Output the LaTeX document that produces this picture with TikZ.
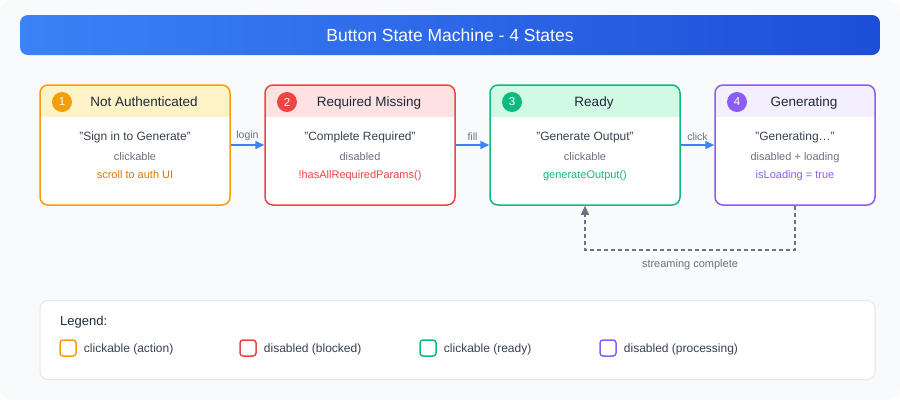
\documentclass[tikz,border=0pt]{standalone}
\usepackage{fontspec}
\setmainfont{Liberation Sans}
\usetikzlibrary{arrows.meta, positioning}

\definecolor{canvas}{HTML}{F8FAFC}
\definecolor{titleA}{HTML}{3B82F6}
\definecolor{titleB}{HTML}{1D4ED8}
\definecolor{stOrange}{HTML}{F59E0B}
\definecolor{hdOrange}{HTML}{FEF3C7}
\definecolor{txOrange}{HTML}{D97706}
\definecolor{stRed}{HTML}{EF4444}
\definecolor{hdRed}{HTML}{FEE2E2}
\definecolor{stGreen}{HTML}{10B981}
\definecolor{hdGreen}{HTML}{D1FAE5}
\definecolor{stPurple}{HTML}{8B5CF6}
\definecolor{hdPurple}{HTML}{F3EFFF}
\definecolor{inkDark}{HTML}{1F2937}
\definecolor{inkBody}{HTML}{374151}
\definecolor{inkGray}{HTML}{6B7280}
\definecolor{legBorder}{HTML}{E5E7EB}
\definecolor{backGray}{HTML}{64748B}

\begin{document}
\begin{tikzpicture}[x=1pt, y=-1pt,
  statebox/.style={draw, line width=1.5pt, rounded corners=8pt, minimum height=120pt, inner sep=0pt},
  badge/.style={circle, text=white, minimum size=20pt, inner sep=0pt, font=\fontsize{11.5}{13}\selectfont},
  headtxt/.style={text=inkDark, font=\fontsize{13.5}{16}\selectfont},
  line/.style={anchor=mid, inner sep=0pt, yshift=-2pt},
  flow/.style={draw=titleA, line width=1.5pt, -{Triangle[length=9pt,width=8pt]}},
  back/.style={draw=inkGray, line width=1.5pt, dashed, dash pattern=on 4pt off 3pt, -{Triangle[length=9pt,width=8pt]}},
  lbl/.style={text=inkGray, font=\fontsize{10.5}{12}\selectfont, inner sep=4pt},
  keybox/.style={draw, line width=1.5pt, rounded corners=3pt, minimum size=16pt, inner sep=0pt}]
\useasboundingbox (0,0) rectangle (900,400);
\fill[white] (0,0) rectangle (900,400);
\fill[canvas, rounded corners=12pt] (0,0) rectangle (900,400);

% Title bar
\shade[left color=titleA, right color=titleB, rounded corners=8pt] (20,15) rectangle (880,55);
\node (title) at (450,35) [text=white, font=\fontsize{17.5}{20}\selectfont] {Button State Machine - 4 States};

% The four states
\foreach \n/\x/\w/\c/\hd/\tc/\ttl/\ta/\tb/\tl in {
    1/135/190/stOrange/hdOrange/txOrange/Not Authenticated/"Sign in to Generate"/clickable/scroll to auth UI,
    2/360/190/stRed/hdRed/stRed/Required Missing/"Complete Required"/disabled/!hasAllRequiredParams(),
    3/585/190/stGreen/hdGreen/stGreen/Ready/"Generate Output"/clickable/generateOutput(),
    4/795/160/stPurple/hdPurple/stPurple/Generating/"Generating…"/disabled + loading/isLoading = true} {
  \fill[white, rounded corners=8pt] ({\x-\w/2},85) rectangle ({\x+\w/2},205);
  \begin{scope}
    \clip[rounded corners=8pt] ({\x-\w/2},85) rectangle ({\x+\w/2},205);
    \fill[\hd] ({\x-\w/2},85) rectangle ({\x+\w/2},117);
  \end{scope}
  \node[statebox, draw=\c, minimum width=\w] (s\n) at (\x,145) {};
  \node[badge, fill=\c] (b\n) at ({\x-\w/2+22},102) {\n};
  \node[headtxt, line] (h\n) at ({\x+9},102) {\ttl};
  \node[line, text=inkBody, font=\fontsize{12}{14}\selectfont] (p\n) at (\x,136) {\ta};
  \node[line, text=inkGray, font=\fontsize{11}{13}\selectfont] (q\n) at (\x,156) {\tb};
  \node[line, text=\tc, font=\fontsize{11}{13}\selectfont] (r\n) at (\x,174) {\tl};
}

% Transitions
\draw[flow] (s1) -- node[above, lbl] {login} (s2);
\draw[flow] (s2) -- node[above, lbl] {fill} (s3);
\draw[flow] (s3) -- node[above, lbl] {click} (s4);
\draw[back] (s4.south) -- ++(0,44) -| node[pos=0.25, below=9pt, lbl, inner sep=0pt, font=\fontsize{11}{13}\selectfont] {streaming complete} (s3.south);

% Legend
\node[draw=legBorder, line width=1pt, fill=white, rounded corners=8pt, minimum width=835pt, minimum height=79pt] (legend) at (457.5,340) {};
\node[anchor=mid west, text=inkDark, font=\fontsize{13}{15}\selectfont, inner sep=0pt, yshift=-2pt] (legtitle) at (60,321) {Legend:};
\foreach \c/\t [count=\i] in {stOrange/clickable (action), stRed/disabled (blocked), stGreen/clickable (ready), stPurple/disabled (processing)} {
  \node[keybox, draw=\c] (k\i) at ({68+(\i-1)*180},348) {};
  \node[right=7pt of k\i, anchor=mid west, inner sep=0pt, yshift=-2pt, text=inkBody, font=\fontsize{12}{14}\selectfont] (t\i) {\t};
}
\end{tikzpicture}
\end{document}
